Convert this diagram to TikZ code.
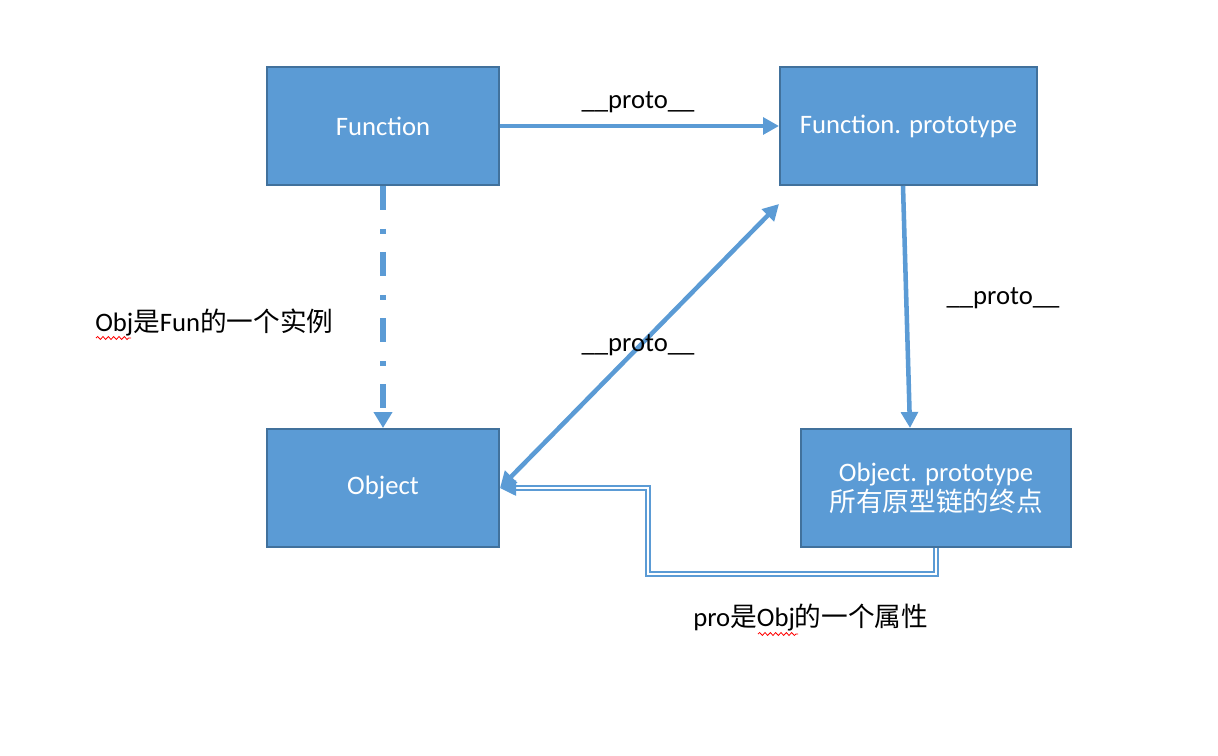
\documentclass[tikz,border=0pt]{standalone}
\usepackage{fontspec}
\setmainfont{Carlito}
\newfontfamily\cjk{Noto Sans CJK SC}
\usetikzlibrary{arrows.meta,calc,decorations.pathmorphing}
\definecolor{boxfill}{HTML}{5B9BD5}
\definecolor{boxline}{HTML}{41719C}
\definecolor{arrowblue}{HTML}{5B9BD5}
\begin{document}
\begin{tikzpicture}[x=0.75pt,y=-0.75pt,
  box/.style={draw=boxline,fill=boxfill,line width=1.5pt,text=white,font=\fontsize{20}{22.5}\selectfont,align=center,inner sep=0pt},
  lbl/.style={font=\fontsize{20}{22.5}\selectfont,text=black,inner sep=0pt},
  conn/.style={draw=arrowblue,line width=3.4pt,-{Triangle[length=12pt,width=12.5pt]}},
  wavy/.style={draw=red,line width=0.6pt,decorate,decoration={snake,amplitude=1.1pt,segment length=4pt}}]
\useasboundingbox (0,0) rectangle (1218,756);

\node[box,minimum width=174pt,minimum height=88.5pt] (F) at (383,126) {Function};
\node[box,minimum width=192.75pt,minimum height=88.5pt] (FP) at (908.5,126) {Function. prototype};
\node[box,minimum width=174pt,minimum height=88.5pt] (O) at (383,488) {\raisebox{-1pt}{Object}};
\node[box,minimum width=202.5pt,minimum height=88.5pt] (OP) at (936,488) {Object. prototype\\{\cjk 所有原型链的终点}};

% Function -> Function.prototype
\draw[conn] (F.east) -- (FP.west);
\node[lbl] (l1) at (638,102) {\_\_proto\_\_};

% dash-dot Function -> Object
\draw[draw=arrowblue,line width=4.5pt,dash pattern=on 18pt off 14.25pt on 3.75pt off 13.5pt,
  -{Triangle[length=12pt,width=13.5pt]}] (F.south) -- (O.north);
\node[lbl,anchor=west] (l2) at (95,322) {Obj{\cjk 是}Fun{\cjk 的一个实例}};
\draw[wavy] (96,338) -- (131,338);

% double-headed diagonal
\coordinate (dg) at ($(FP.south west)+(0,18)$);
\draw[draw=arrowblue,line width=3.4pt,{Triangle[length=12pt,width=12.5pt]}-{Triangle[length=12pt,width=12.5pt]}] (O.east) -- (dg);
\node[lbl] (l3) at (638,345) {\_\_proto\_\_};

% Function.prototype -> Object.prototype
\draw[conn] ($(FP.south)+(-5.5,0)$) -- ($(OP.north)+(-26,0)$);
\node[lbl] (l4) at (1003,298) {\_\_proto\_\_};

% double line Object.prototype -> Object
\coordinate (c2) at (648,574);
\coordinate (c1) at (OP.south |- c2);
\coordinate (c3) at (c2 |- O.east);
\draw[draw=arrowblue,double=white,double distance=2.2pt,line width=1.1pt,
  -{Triangle[length=12pt,width=11.5pt]}] (OP.south) -- (c1) -- (c2) -- (c3) -- (O.east);
\node[lbl,anchor=west] (l5) at (693,618) {pro{\cjk 是}Obj{\cjk 的一个属性}};
\draw[wavy] (758,634) -- (798,634);
\end{tikzpicture}
\end{document}
